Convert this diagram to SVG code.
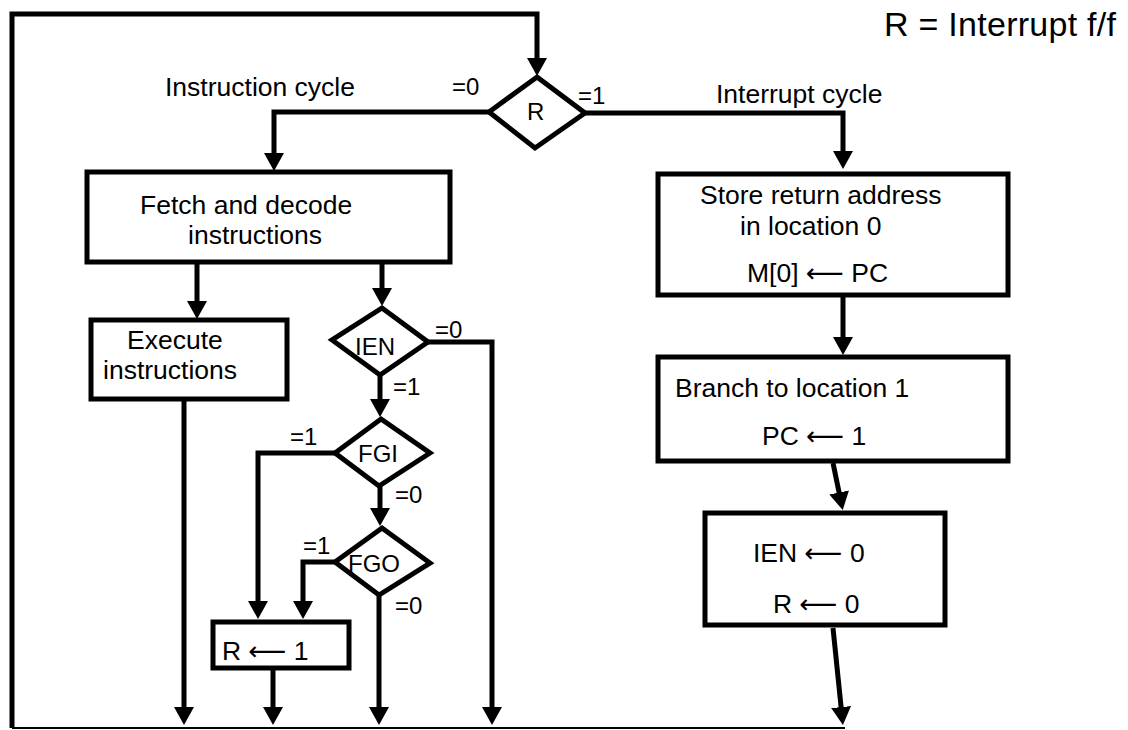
<svg xmlns="http://www.w3.org/2000/svg" width="1128" height="730" viewBox="0 0 1128 730">
<style>
text{font-family:"Liberation Sans","DejaVu Sans",sans-serif;fill:#000}
.t{font-size:26.5px}
.s{font-size:24px}
.h{font-size:34px}
.box{fill:#fff;stroke:#000;stroke-width:5}
.dia{fill:#fff;stroke:#000;stroke-width:5;stroke-linejoin:miter}
.c{fill:none;stroke:#000;stroke-width:5;marker-end:url(#ah)}
</style>
<defs>
<marker id="ah" viewBox="0 0 18 20" refX="1" refY="10" markerWidth="18" markerHeight="20" markerUnits="userSpaceOnUse" orient="auto">
<path d="M0,0 L18,10 L0,20 z" fill="#000"/>
</marker>
</defs>
<rect width="1128" height="730" fill="#fff"/>
<text class="h" x="884" y="36" textLength="232" lengthAdjust="spacing">R = Interrupt f/f</text>
<g id="connectors">
<path class="c" d="M12,728 L12,14 L537,14 L537,59"/>
<line x1="12" y1="728" x2="845" y2="728" stroke="#000" stroke-width="2"/>
<path class="c" d="M489,112 L274,112 L274,154"/>
<path class="c" d="M585,113 L843,113 L843,152"/>
<path class="c" d="M197,262 L197,302"/>
<path class="c" d="M382,262 L382,289"/>
<path class="c" d="M184,399 L184,708"/>
<path class="c" d="M428,342 L492,342 L492,708"/>
<path class="c" d="M380,375 L380,400"/>
<path class="c" d="M335,453 L258,453 L258,602"/>
<path class="c" d="M380,486 L380,509"/>
<path class="c" d="M335,562 L303,562 L303,602"/>
<path class="c" d="M379,595 L379,708"/>
<path class="c" d="M273,668 L273,708"/>
<path class="c" d="M843,282 L843,338"/>
<path class="c" d="M833,463 L839.3,493.4"/>
<path class="c" d="M833,628 L841.2,708.1"/>
<text class="s" x="452" y="95">=0</text>
<text class="s" x="578" y="104">=1</text>
<text class="t" x="165" y="96">Instruction cycle</text>
<text class="t" x="716" y="103">Interrupt cycle</text>
<text class="s" x="435" y="338">=0</text>
<text class="s" x="393" y="395">=1</text>
<text class="s" x="290" y="445">=1</text>
<text class="s" x="395" y="503">=0</text>
<text class="s" x="303" y="554">=1</text>
<text class="s" x="395" y="614">=0</text>
</g>
<g id="R">
<polygon class="dia" points="537,77 585,113 535,148 489,112"/>
<text class="s" x="527" y="120">R</text>
</g>
<g id="fetch">
<rect class="box" x="87" y="172" width="363" height="90"/>
<text class="t" x="140" y="214">Fetch and decode</text>
<text class="t" x="188" y="244">instructions</text>
</g>
<g id="execute">
<rect class="box" x="91" y="320" width="196" height="79"/>
<text class="t" x="127" y="349">Execute</text>
<text class="t" x="103" y="379">instructions</text>
</g>
<g id="IEN">
<polygon class="dia" points="382,308 428,342 380,375 332,340"/>
<text class="s" x="355" y="355">IEN</text>
</g>
<g id="FGI">
<polygon class="dia" points="381,419 430,453 379,486 335,453"/>
<text class="s" x="358" y="462">FGI</text>
</g>
<g id="FGO">
<polygon class="dia" points="382,528 430,563 379,595 335,562"/>
<text class="s" x="348" y="572">FGO</text>
</g>
<g id="setR">
<rect class="box" x="213" y="622" width="136" height="46"/>
<text class="t" x="222" y="660">R ⟵ 1</text>
</g>
<g id="store">
<rect class="box" x="658" y="174" width="350" height="121"/>
<text class="t" x="700" y="204">Store return address</text>
<text class="t" x="740" y="235">in location 0</text>
<text class="t" x="747" y="282">M[0] ⟵ PC</text>
</g>
<g id="branch">
<rect class="box" x="658" y="357" width="350" height="104"/>
<text class="t" x="675" y="397">Branch to location 1</text>
<text class="t" x="762" y="445">PC ⟵ 1</text>
</g>
<g id="clear">
<rect class="box" x="705" y="513" width="240" height="112"/>
<text class="t" x="753" y="562">IEN ⟵ 0</text>
<text class="t" x="773" y="613">R ⟵ 0</text>
</g>
</svg>
